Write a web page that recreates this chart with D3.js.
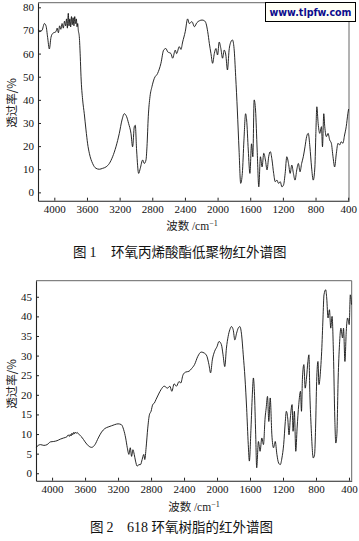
<!DOCTYPE html>
<html>
<head>
<meta charset="utf-8">
<script src="https://cdn.jsdelivr.net/npm/d3@7/dist/d3.min.js"></script>
<style>
  html, body { margin: 0; padding: 0; background: #fff; }
  svg { display: block; }
</style>
</head>
<body>
<svg id="chart" width="359" height="541"></svg>
<script>
// ---------- data ----------
const xTickValues = [4000, 3600, 3200, 2800, 2400, 2000, 1600, 1200, 800, 400];
const topYTickValues = [0, 10, 20, 30, 40, 50, 60, 70, 80];
const botYTickValues = [0, 5, 10, 15, 20, 25, 30, 35, 40, 45];

// Fig.1 epoxy acrylate oligomer
const topWavenumber = [4195,4184,4151,4122,4102,4082,4061,4041,4020,3980,3965,3950,3935,3920,3905,3890,3875,3862,3850,3840,3829,3820,3810,3800,3790,3780,3770,3760,3750,3740,3730,3722,3714,3706,3694,3682,3673,3653,3633,3612,3592,3571,3531,3490,3449,3408,3367,3326,3286,3245,3204,3171,3143,3114,3090,3061,3041,3020,3008,2992,2967,2947,2918,2898,2877,2865,2849,2828,2804,2775,2735,2694,2661,2633,2612,2571,2551,2518,2502,2469,2449,2428,2396,2367,2347,2314,2283,2255,2222,2190,2162,2141,2121,2101,2081,2061,2040,2020,2000,1980,1960,1939,1919,1899,1879,1859,1838,1818,1798,1778,1758,1737,1717,1697,1677,1657,1644,1624,1604,1584,1568,1552,1535,1515,1495,1475,1455,1434,1414,1394,1374,1354,1333,1313,1293,1273,1253,1232,1212,1192,1172,1152,1131,1111,1091,1071,1051,1030,1010,990,970,950,929,909,889,869,849,828,808,796,784,768,748,727,715,699,687,667,647,626,606,586,566,545,525,505,485,465,444,424,404,395];
const topTransmittance = [70.5,69.5,70,73,72,67,62,67,68.7,69.5,71,69,72,70.5,73,71,74,72,75,71,77.4,72,75,71.5,76,72.5,75.5,72,76,73,75,71.6,73,70,67.3,58.6,50,40,34,27,21,16.9,12.5,10.4,10,10.4,11,12.5,15.4,19.7,25.5,31.3,34,32.7,29.8,25.5,19.7,28.4,29,18.3,8.2,10.4,14,12.5,14,19.7,32.7,41.4,45.7,49.3,51.4,55.8,61.5,62.2,60.8,60,58,61.5,60,63,61.8,65,69.5,75,73,73.8,71.6,73.3,74.2,74.5,74.2,73,69.5,64.4,60,55.8,60,62.2,59.4,65,62.2,58,61.5,59.4,52.9,61.5,65,65.9,62.2,50,35.6,18.3,3.9,8.2,22.6,34,31.3,18.3,8.2,21,15.4,40,35.6,18.3,2.4,15.4,11,16.9,14,9.7,15.4,17.6,14,8.2,4.6,5.3,3.9,4.6,2.4,3.2,8.2,15.4,12.5,8.2,11.8,8.2,5.3,9.7,12.5,8.9,12.5,15.4,19.7,24.1,25.5,19.7,11,5.3,11,25.5,37,29.8,25.5,28.4,19.7,34,28.4,24.1,25.5,22.6,21.2,15.4,11,16.9,21.2,20.5,21.9,21.2,24.8,28.4,34,36];

// Fig.2 618 epoxy resin
const botWavenumber = [4190,4180,4140,4100,4060,4020,3980,3940,3900,3860,3820,3805,3790,3780,3770,3760,3750,3740,3730,3720,3708,3695,3680,3665,3650,3640,3600,3560,3520,3480,3440,3400,3360,3320,3280,3240,3200,3160,3132,3108,3088,3068,3052,3036,3020,3004,2988,2968,2948,2928,2908,2888,2876,2860,2840,2820,2800,2780,2760,2740,2708,2680,2640,2600,2572,2548,2520,2492,2460,2440,2412,2380,2340,2308,2273,2233,2192,2151,2122,2098,2078,2057,2029,2000,1976,1947,1927,1906,1886,1865,1845,1825,1804,1784,1763,1743,1723,1702,1682,1661,1641,1621,1608,1588,1572,1559,1547,1531,1519,1498,1478,1457,1437,1417,1404,1388,1372,1355,1335,1315,1294,1274,1253,1233,1213,1192,1172,1160,1143,1127,1111,1090,1078,1062,1045,1029,1009,988,976,964,947,931,915,898,886,874,858,833,817,805,792,776,764,743,731,715,703,682,670,654,637,621,605,588,572,560,547,531,515,498,478,466,449,433,417,397,384,370];
const botTransmittance = [6.6,6.9,7.3,7.1,7.3,8.0,8.1,8.3,8.7,9.0,9.3,9.8,9.4,9.9,9.5,10.2,9.8,10.4,10.0,10.5,10.2,10.4,10.0,9.8,9.4,9.2,8.0,7.0,6.6,7.3,9.0,10.5,11.4,11.8,12.1,12.4,12.6,12.4,11.1,9.0,6.5,4.8,6.5,4.3,6.0,4.8,3.1,1.8,2.2,2.2,3.5,4.8,3.5,6.5,11.5,14.9,15.8,17.5,17.9,18.8,20.2,21.3,22.2,21.7,22.2,20.9,22.8,22.2,23.4,23.0,25.1,25.8,26.0,26.7,27.7,29.8,30.9,30.6,29.8,27.7,25.6,28.9,31.1,32.3,33.6,32.8,30.2,27.2,31.9,34.9,36.6,37.4,36.6,34.0,35.7,37.0,37.4,35.3,30.2,24.3,16.6,7.3,3.1,11.5,20.0,24.3,20.9,9.8,1.4,8.1,5.6,9.0,7.3,14.1,16.6,19.6,13.2,19.2,9.8,6.5,8.1,4.8,2.6,2.2,3.9,7.3,13.2,15.8,14.1,9.8,14.1,17.5,10.7,15.8,5.6,11.5,17.5,20.9,15.8,24.3,27.7,21.7,24.3,28.5,30.2,20.0,11.5,3.9,4.8,11.5,23.4,28.5,22.6,26.8,31.1,39.6,45.5,46.8,44.7,39.6,41.7,37.0,40.0,30.2,14.1,7.7,9.8,24.3,32.8,37.0,34.5,37.0,28.5,36.2,39.6,37.9,45.5,43.0];

// ---------- drawing ----------
const svg = d3.select("#chart");
const serif = '"Liberation Serif", "DejaVu Serif", serif';
const cjk = '"Noto Sans CJK SC", "Noto Sans CJK JP", sans-serif';

function drawPanel(cfg) {
  const x = d3.scaleLinear().domain(cfg.xDomain).range([cfg.left, cfg.right]);
  const y = d3.scaleLinear().domain(cfg.yDomain).range([cfg.bottom, cfg.top]);
  const g = svg.append("g");

  g.append("path")
    .attr("d", `M${cfg.left},${cfg.top}H${cfg.right}V${cfg.bottom}`)
    .attr("fill", "none").attr("stroke", "#666").attr("stroke-width", 1);

  const xAxis = d3.axisBottom(x).tickValues(xTickValues).tickFormat(d3.format("d"))
    .tickSizeInner(-3).tickSizeOuter(0).tickPadding(5);
  const yAxis = d3.axisLeft(y).tickValues(cfg.yTicks).tickFormat(d3.format("d"))
    .tickSizeInner(-3).tickSizeOuter(0).tickPadding(4);

  const gx = g.append("g").attr("transform", `translate(0,${cfg.bottom})`).call(xAxis);
  const gy = g.append("g").attr("transform", `translate(${cfg.left},0)`).call(yAxis);
  [gx, gy].forEach(a => {
    a.select(".domain").attr("stroke", "#222").attr("stroke-width", 1.1);
    a.selectAll(".tick line").attr("stroke", "#222");
    a.selectAll(".tick text").attr("font-family", serif).attr("font-size", 11).attr("fill", "#111");
  });

  const pts = cfg.wn.map((w, i) => [w, cfg.tr[i]]);
  const line = d3.line().x(d => x(d[0])).y(d => y(d[1])).curve(d3.curveMonotoneX);
  g.append("path").datum(pts)
    .attr("d", line).attr("fill", "none")
    .attr("stroke", "#111").attr("stroke-width", 0.9).attr("stroke-linejoin", "round");

  g.append("text")
    .attr("transform", `translate(${cfg.ylabelX},${cfg.ylabelY}) rotate(-90)`)
    .attr("text-anchor", "middle").attr("dominant-baseline", "central")
    .attr("font-family", cjk).attr("font-size", 11.5).attr("fill", "#222")
    .text("透过率/%");

  const xl = g.append("text")
    .attr("x", cfg.xlabelX).attr("y", cfg.xlabelY)
    .attr("text-anchor", "middle").attr("font-size", 11.5).attr("fill", "#222");
  xl.append("tspan").attr("font-family", cjk).text("波数 ");
  xl.append("tspan").attr("font-family", serif).text("/cm");
  xl.append("tspan").attr("font-family", serif).attr("font-size", 8).attr("dy", -4).text("−1");
}

drawPanel({
  left: 38, right: 349, top: 2.7, bottom: 200.7,
  xDomain: [4200, 390], yDomain: [-3.6, 82], yTicks: topYTickValues,
  wn: topWavenumber, tr: topTransmittance,
  ylabelX: 11, ylabelY: 103, xlabelX: 192, xlabelY: 230
});

drawPanel({
  left: 36, right: 351.7, top: 280.7, bottom: 480.7,
  xDomain: [4195, 367], yDomain: [-1.9, 49.1], yTicks: botYTickValues,
  wn: botWavenumber, tr: botTransmittance,
  ylabelX: 11, ylabelY: 384, xlabelX: 194, xlabelY: 511
});

// captions
function caption(yPos, figX, figNum, restX, restParts) {
  const f = svg.append("text").attr("x", figX).attr("y", yPos)
    .attr("font-size", 13.5).attr("fill", "#111");
  f.append("tspan").attr("font-family", cjk).text("图 ");
  f.append("tspan").attr("font-family", serif).attr("font-size", 14).text(figNum);
  const t = svg.append("text").attr("x", restX).attr("y", yPos)
    .attr("font-size", 13.5).attr("fill", "#111");
  restParts.forEach(p => t.append("tspan").attr("font-family", p[1] ? serif : cjk)
    .attr("font-size", p[1] ? 14 : 13.5).text(p[0]));
}
caption(257, 73, "1", 111, [["环氧丙烯酸酯低聚物红外谱图", false]]);
caption(532, 90, "2", 127, [["618 ", true], ["环氧树脂的红外谱图", false]]);

// watermark
svg.append("rect").attr("x", 265.5).attr("y", 2.5).attr("width", 90).attr("height", 19)
  .attr("fill", "#fffff6").attr("stroke", "#000").attr("stroke-width", 1);
svg.append("text").attr("x", 310.5).attr("y", 16).attr("text-anchor", "middle")
  .attr("font-family", '"DejaVu Sans", Verdana, sans-serif').attr("font-weight", "bold")
  .attr("font-size", 10.5).attr("fill", "#0c0c8c")
  .attr("textLength", 82).attr("lengthAdjust", "spacingAndGlyphs")
  .text("www.tlpfw.com");
</script>
</body>
</html>
